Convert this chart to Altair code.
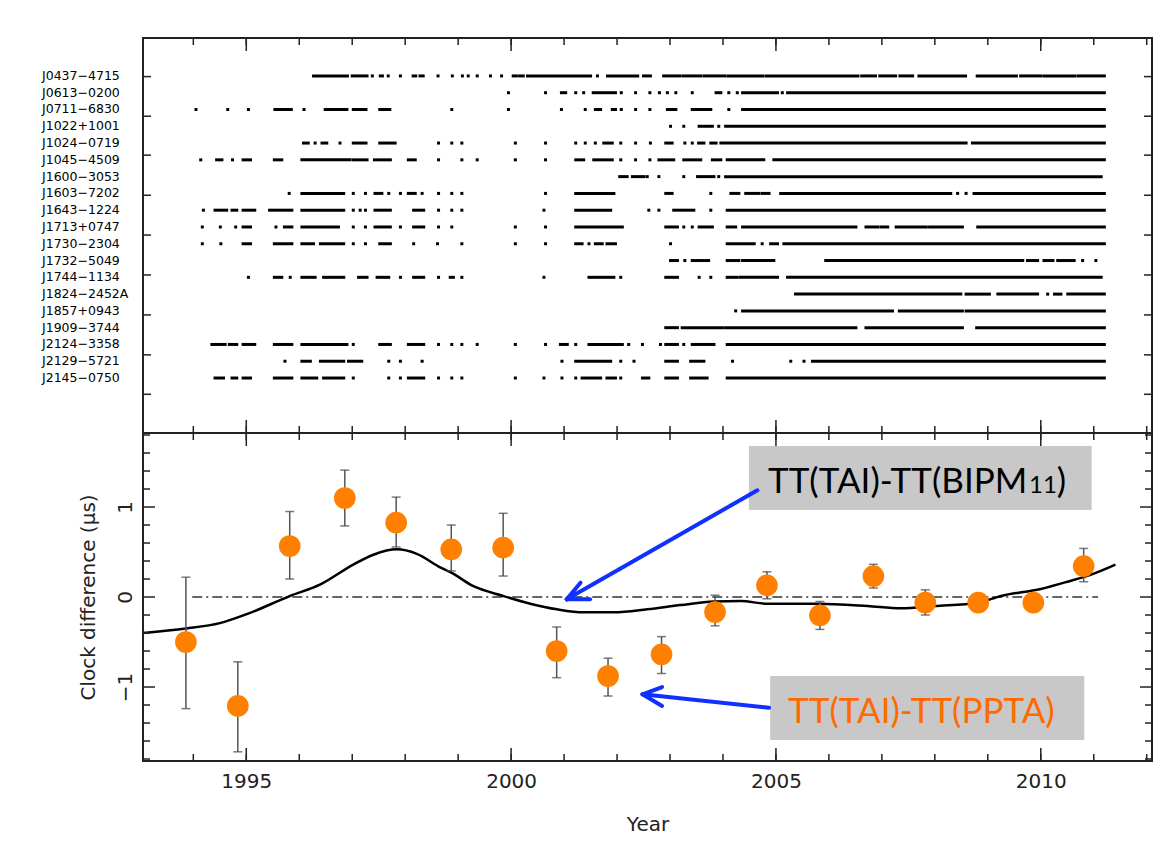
import altair as alt
import pandas as pd

# ---------------- top panel: pulsar observation epochs ----------------
pulsars = ["J0437−4715", "J0613−0200", "J0711−6830", "J1022+1001", "J1024−0719",
           "J1045−4509", "J1600−3053", "J1603−7202", "J1643−1224", "J1713+0747",
           "J1730−2304", "J1732−5049", "J1744−1134", "J1824−2452A", "J1857+0943",
           "J1909−3744", "J2124−3358", "J2129−5721", "J2145−0750"]

obs_J0437 = [[1996.27,1996.91],[1997.00,1997.28],[1997.38,1997.38],[1997.53,1997.57],[1997.68,1997.68],[1997.91,1997.91],[1998.15,1998.20],[1998.28,1998.34],[1998.62,1998.62],[1998.89,1998.89],[1999.08,1999.08],[1999.19,1999.19],[1999.36,1999.36],[1999.61,1999.61],[1999.82,1999.82],[2000.04,2000.10],[2000.16,2000.23],[2000.31,2001.50],[2001.63,2001.63],[2001.82,2002.39],[2002.50,2002.63],[2002.88,2003.18],[2003.24,2003.58],[2003.64,2004.03],[2004.09,2004.75],[2004.81,2006.55],[2006.62,2006.88],[2006.96,2007.26],[2007.34,2007.58],[2007.70,2008.58],[2008.80,2009.54],[2009.62,2010.01],[2010.07,2010.64],[2010.70,2011.20]]
obs_J0613 = [[1999.95,1999.95],[2000.65,2000.65],[2000.95,2001.03],[2001.22,2001.22],[2001.37,2001.37],[2001.55,2001.97],[2002.08,2002.08],[2002.35,2002.35],[2002.62,2002.62],[2002.80,2002.80],[2002.95,2002.95],[2003.11,2003.11],[2003.42,2003.42],[2003.87,2003.96],[2004.11,2004.11],[2004.27,2004.27],[2004.37,2005.03],[2005.12,2005.12],[2005.22,2011.20]]
obs_J0711 = [[1994.05,1994.05],[1994.65,1994.65],[1995.04,1995.04],[1995.54,1995.85],[1996.09,1996.09],[1996.49,1996.90],[1997.02,1997.26],[1997.52,1997.71],[1998.88,1998.88],[1999.95,1999.95],[2000.95,2000.95],[2001.40,2001.40],[2001.59,2001.69],[2001.91,2001.97],[2002.08,2002.08],[2002.35,2002.35],[2002.62,2002.62],[2002.95,2003.11],[2003.42,2003.77],[2004.11,2004.11],[2004.37,2011.20]]
obs_J1022 = [[2003.01,2003.01],[2003.26,2003.26],[2003.55,2003.80],[2003.92,2003.92],[2004.05,2011.20]]
obs_J1024 = [[1996.08,1996.17],[1996.30,1996.30],[1996.43,1996.52],[1996.77,1996.77],[1997.02,1997.26],[1997.52,1997.81],[1998.63,1998.63],[1998.88,1998.88],[1999.07,1999.07],[2000.08,2000.08],[2000.65,2000.65],[2001.22,2001.22],[2001.40,2001.40],[2001.59,2001.59],[2001.75,2001.91],[2002.07,2002.07],[2002.35,2002.35],[2002.63,2002.63],[2002.92,2003.04],[2003.28,2003.28],[2003.42,2003.42],[2003.54,2003.64],[2003.77,2003.87],[2003.96,2008.59],[2008.71,2011.20]]
obs_J1045 = [[1994.14,1994.14],[1994.44,1994.54],[1994.74,1994.74],[1994.94,1995.08],[1995.53,1995.67],[1996.05,1996.96],[1997.02,1997.28],[1997.42,1997.72],[1998.06,1998.19],[1998.63,1998.63],[1999.07,1999.07],[1999.36,1999.36],[2000.08,2000.08],[2000.65,2000.65],[2001.22,2001.37],[2001.56,2001.91],[2002.07,2002.07],[2002.35,2002.35],[2002.62,2002.62],[2002.79,2003.07],[2003.26,2003.58],[2003.80,2003.96],[2004.08,2004.77],[2004.96,2011.20]]
obs_J1600 = [[2002.05,2002.19],[2002.29,2002.51],[2002.57,2002.57],[2002.79,2002.79],[2003.26,2003.26],[2003.52,2003.83],[2003.92,2003.92],[2004.05,2011.14]]
obs_J1603 = [[1995.81,1995.81],[1996.05,1996.84],[1997.02,1997.02],[1997.25,1997.25],[1997.43,1997.56],[1997.69,1997.69],[1997.91,1997.91],[1998.06,1998.19],[1998.32,1998.32],[1998.63,1998.63],[1998.88,1998.88],[1999.07,1999.07],[2000.65,2000.65],[2001.22,2001.94],[2002.92,2003.04],[2003.77,2003.77],[2004.15,2004.30],[2004.43,2004.68],[2004.74,2004.87],[2005.09,2008.30],[2008.43,2008.43],[2008.59,2008.59],[2008.74,2011.20]]
obs_J1643 = [[1994.19,1994.19],[1994.41,1994.63],[1994.73,1994.82],[1994.94,1995.16],[1995.44,1995.86],[1996.05,1996.84],[1997.02,1997.02],[1997.15,1997.15],[1997.25,1997.25],[1997.43,1997.72],[1998.16,1998.35],[1998.63,1998.63],[1998.88,1998.88],[1999.07,1999.07],[2000.62,2000.62],[2001.22,2001.88],[2002.60,2002.60],[2002.79,2002.79],[2003.07,2003.45],[2003.77,2003.77],[2004.08,2011.20]]
obs_J1713 = [[1994.17,1994.17],[1994.51,1994.51],[1994.80,1994.80],[1994.94,1995.08],[1995.56,1995.56],[1995.72,1995.86],[1996.05,1996.74],[1997.02,1997.02],[1997.25,1997.25],[1997.43,1997.72],[1997.91,1997.91],[1998.16,1998.35],[1998.63,1998.63],[1998.88,1998.88],[2000.08,2000.08],[2000.65,2000.65],[2001.22,2002.10],[2002.92,2003.14],[2003.26,2003.26],[2003.42,2003.42],[2003.55,2003.80],[2004.08,2004.24],[2004.37,2006.51],[2006.70,2006.92],[2006.98,2007.11],[2007.27,2007.84],[2007.90,2008.52],[2008.81,2011.20]]
obs_J1730 = [[1994.17,1994.17],[1994.52,1994.52],[1994.94,1995.08],[1995.53,1995.86],[1996.05,1996.27],[1996.40,1996.84],[1997.02,1997.02],[1997.25,1997.25],[1997.52,1997.72],[1998.16,1998.16],[1998.61,1998.61],[1999.07,1999.07],[2000.08,2000.08],[2000.65,2000.65],[2001.22,2001.34],[2001.47,2001.47],[2001.59,2001.72],[2001.81,2001.97],[2003.01,2003.01],[2004.08,2004.59],[2004.74,2004.74],[2004.90,2005.03],[2005.15,2011.20]]
obs_J1732 = [[2003.01,2003.14],[2003.28,2003.28],[2003.42,2003.73],[2004.08,2004.30],[2004.37,2004.96],[2005.94,2009.66],[2009.75,2009.94],[2010.06,2010.23],[2010.32,2010.63],[2010.79,2010.79],[2011.04,2011.04]]
obs_J1744 = [[1995.04,1995.04],[1995.53,1995.67],[1995.83,1995.83],[1996.05,1996.30],[1996.46,1996.84],[1997.12,1997.28],[1997.47,1997.69],[1997.91,1997.91],[1998.16,1998.35],[1998.63,1998.63],[1998.85,1998.91],[1999.07,1999.07],[2000.62,2000.62],[2001.47,2001.94],[2002.07,2002.07],[2002.92,2003.14],[2003.55,2003.55],[2003.77,2003.77],[2004.08,2004.27],[2004.33,2005.03],[2005.22,2011.14]]
obs_J1824 = [[2005.37,2008.49],[2008.59,2009.03],[2009.19,2009.94],[2010.13,2010.13],[2010.26,2010.38],[2010.51,2011.20]]
obs_J1857 = [[2004.24,2004.24],[2004.37,2007.20],[2007.33,2008.52],[2008.59,2011.20]]
obs_J1909 = [[2002.92,2003.14],[2003.23,2003.99],[2004.05,2006.51],[2006.70,2008.52],[2008.79,2011.20]]
obs_J2124 = [[1994.35,1994.60],[1994.68,1994.82],[1994.94,1995.16],[1995.53,1995.86],[1996.05,1996.90],[1997.02,1997.02],[1997.52,1997.72],[1998.06,1998.35],[1998.63,1998.63],[1998.88,1998.88],[1999.07,1999.07],[1999.36,1999.36],[2000.08,2000.08],[2000.65,2000.65],[2000.93,2001.06],[2001.22,2001.22],[2001.47,2002.10],[2002.22,2002.22],[2002.48,2002.48],[2002.82,2002.82],[2002.92,2003.14],[2003.26,2003.26],[2003.42,2003.83],[2004.08,2011.20]]
obs_J2129 = [[1995.73,1995.73],[1996.05,1996.21],[1996.40,1996.84],[1996.93,1997.18],[1997.69,1997.69],[1997.91,1997.91],[1998.32,1998.32],[2000.96,2000.96],[2001.22,2001.88],[2002.07,2002.07],[2002.32,2002.32],[2002.92,2003.14],[2003.39,2003.64],[2004.18,2004.18],[2005.28,2005.28],[2005.53,2005.53],[2005.69,2011.20]]
obs_J2145 = [[1994.41,1994.57],[1994.73,1994.82],[1994.94,1995.08],[1995.53,1995.86],[1996.05,1996.33],[1996.46,1996.84],[1997.02,1997.02],[1997.69,1997.69],[1997.91,1997.91],[1998.06,1998.35],[1998.63,1998.63],[1998.88,1998.88],[1999.07,1999.07],[2000.08,2000.08],[2000.62,2000.62],[2000.96,2000.96],[2001.22,2001.22],[2001.34,2001.69],[2001.81,2001.97],[2002.07,2002.07],[2002.48,2002.60],[2002.92,2003.14],[2003.39,2003.70],[2004.08,2011.20]]

observations = [obs_J0437, obs_J0613, obs_J0711, obs_J1022, obs_J1024, obs_J1045,
                obs_J1600, obs_J1603, obs_J1643, obs_J1713, obs_J1730, obs_J1732,
                obs_J1744, obs_J1824, obs_J1857, obs_J1909, obs_J2124, obs_J2129,
                obs_J2145]

# ---------------- bottom panel: clock difference ----------------
pt_year = [1993.86, 1994.84, 1995.82, 1996.86, 1997.83, 1998.87, 1999.85, 2000.86, 2001.83,
           2002.84, 2003.85, 2004.83, 2005.83, 2006.84, 2007.82, 2008.82, 2009.86, 2010.81]
pt_val = [-0.50, -1.21, 0.567, 1.10, 0.826, 0.53, 0.548, -0.60, -0.878,
          -0.637, -0.167, 0.13, -0.204, 0.233, -0.063, -0.063, -0.063, 0.344]
pt_hi = [0.22, -0.72, 0.95, 1.41, 1.11, 0.80, 0.93, -0.333, -0.68,
         -0.44, 0.02, 0.28, -0.05, 0.363, 0.08, 0.03, 0.03, 0.54]
pt_lo = [-1.24, -1.72, 0.20, 0.79, 0.556, 0.29, 0.233, -0.896, -1.10,
         -0.85, -0.32, -0.02, -0.36, 0.10, -0.20, -0.15, -0.15, 0.17]

curve_year = [1993.05, 1993.86, 1994.50, 1995.01, 1995.82, 1996.40, 1997.02, 1997.40, 1997.84,
              1998.22, 1998.66, 1998.87, 1999.29, 1999.86, 2000.36, 2000.87, 2001.37, 2001.94,
              2002.57, 2003.20, 2003.83, 2004.33, 2004.84, 2005.78, 2006.73, 2007.36, 2007.99,
              2008.81, 2009.25, 2010.00, 2010.50, 2011.00, 2011.41]
curve_val = [-0.40, -0.35, -0.29, -0.19, 0.01, 0.14, 0.36, 0.47, 0.53,
             0.48, 0.33, 0.27, 0.12, 0.01, -0.074, -0.137, -0.17, -0.17,
             -0.137, -0.09, -0.05, -0.044, -0.075, -0.074, -0.10, -0.126, -0.10,
             -0.063, 0.011, 0.09, 0.17, 0.26, 0.36]

zero_x = [1993.98, 2011.08]

# annotations (data coordinates: year, microseconds)
box_x = [2004.49, 2004.89]
box_x2 = [2010.96, 2010.82]
box_y = [1.678, -0.878]
box_y2 = [0.967, -1.589]

arrow_x = [2004.65, 2001.05, 2001.05, 2004.87, 2002.48, 2002.48]
arrow_y = [1.186, -0.026, -0.026, -1.23, -1.081, -1.081]
arrow_x2 = [2001.05, 2001.31, 2001.49, 2002.48, 2002.85, 2002.85]
arrow_y2 = [-0.026, 0.159, -0.026, -1.081, -1.00, -1.211]

label_text = ["TT(TAI)-TT(BIPM", "11", ")", "TT(TAI)-TT(PPTA)"]
label_x = [2004.85, 2009.78, 2010.30, 2005.23]
label_y = [1.156, 1.156, 1.156, -1.403]
label_size = [35, 24, 35, 35]
label_color = ["black", "black", "black", "#ff6a00"]

# axis ticks
year_minor = list(range(1994, 2013))
year_major = [1995, 2000, 2005, 2010]
row_ticks = [0.04, 2.40, 4.72, 7.11, 9.48, 11.86, 14.24, 16.62, 18.97]
val_minor = [-1.8, -1.6, -1.4, -1.2, -0.8, -0.6, -0.4, -0.2, 0.2, 0.4, 0.6, 0.8, 1.2, 1.4, 1.6, 1.8]
val_major = [-1, 0, 1]

# ---------------- build ----------------
W = 1009
H = 723          # whole frame (both panels)
SEP = 395        # panel separator, pixels from the top of the frame
TICK_C = "#222"

xs = alt.Scale(domain=[1993.05, 2012.1], nice=False, zero=False)
# the two panels share one frame; each has its own vertical scale
ys_top = alt.Scale(domain=[-2.26, 40.82], reverse=True, nice=False, zero=False)
ys_bot = alt.Scale(domain=[-1.822, 6.211], nice=False, zero=False)

AX_X = alt.Axis(
    values=year_major, format="d", ticks=False, domain=False, grid=False,
    labelFont="DejaVu Sans", labelFontSize=20, labelColor="#222", labelPadding=10,
    labelFlush=False, title="Year", titleFont="DejaVu Sans", titleFontSize=20,
    titleFontWeight="normal", titleColor="#222", titlePadding=23)
AX_BOT_Y = alt.Axis(
    orient="left", values=val_major, ticks=False, domain=False, grid=False, labelAngle=270,
    labelAlign="center", labelBaseline="alphabetic", labelPadding=12,
    labelFont="DejaVu Sans", labelFontSize=20, labelColor="#222",
    title="Clock difference (μs)", titleFont="DejaVu Sans", titleFontSize=20,
    titleFontWeight="normal", titleColor="#222", titleAngle=270, titleAlign="center",
    titleBaseline="middle", titleX=-55, titleY=559)


def X(field):
    return alt.X(field, scale=xs, axis=AX_X)


def YT(field):
    return alt.Y(field, scale=ys_top, axis=None)


def YB(field):
    return alt.Y(field, scale=ys_bot, axis=AX_BOT_Y)


def rule(d):
    return alt.Chart(d).mark_rule(color=TICK_C, strokeWidth=1.5)


# ---- top panel layers
obs_rows = []
for i, segs in enumerate(observations):
    for s, e in segs:
        obs_rows.append({"row": i, "start": s, "end": e})
obs_df = pd.DataFrame(obs_rows)
name_df = pd.DataFrame({"row": list(range(len(pulsars))), "name": pulsars})
rt_df = pd.DataFrame({"v": row_ticks})
ymin_df = pd.DataFrame({"yr": year_minor})
ymaj_df = pd.DataFrame({"yr": year_major})

top_layers = [
    alt.Chart(obs_df).mark_rule(color="black", strokeWidth=3, strokeCap="square").encode(
        x=X("start:Q"), x2="end:Q", y=YT("row:Q")),
    alt.Chart(name_df).mark_text(align="left", baseline="middle", font="DejaVu Sans",
                                 fontSize=12.5, color="black").encode(
        x=alt.value(-101), y=YT("row:Q"), text="name:N"),
    rule(rt_df).encode(y=YT("v:Q"), x=alt.value(0), x2=alt.value(8)),
    rule(rt_df).encode(y=YT("v:Q"), x=alt.value(W), x2=alt.value(W - 8)),
    rule(ymin_df).encode(x=X("yr:Q"), y=alt.value(0), y2=alt.value(7)),
    rule(ymaj_df).encode(x=X("yr:Q"), y=alt.value(0), y2=alt.value(13)),
    rule(ymin_df).encode(x=X("yr:Q"), y=alt.value(SEP), y2=alt.value(SEP - 7)),
    rule(ymaj_df).encode(x=X("yr:Q"), y=alt.value(SEP), y2=alt.value(SEP - 13)),
    alt.Chart(ymaj_df).mark_rule(color=TICK_C, strokeWidth=2).encode(
        x=alt.value(0), x2=alt.value(W), y=alt.value(SEP)),
]
top = alt.layer(*top_layers)

# ---- bottom panel layers
zero_df = pd.DataFrame({"x0": [zero_x[0]], "x1": [zero_x[1]], "y0": [0.0]})
curve_df = pd.DataFrame({"yr": curve_year, "v": curve_val})
pts_df = pd.DataFrame({"yr": pt_year, "v": pt_val, "hi": pt_hi, "lo": pt_lo})
box_df = pd.DataFrame({"x": box_x, "x2": box_x2, "y": box_y, "y2": box_y2})
arrow_df = pd.DataFrame({"x": arrow_x, "y": arrow_y, "x2": arrow_x2, "y2": arrow_y2})
label_df = pd.DataFrame({"t": label_text, "x": label_x, "y": label_y,
                         "s": label_size, "c": label_color})
vmin_df = pd.DataFrame({"v": val_minor})
vmaj_df = pd.DataFrame({"v": val_major})

bottom_layers = [
    alt.Chart(zero_df).mark_rule(color="#333", strokeWidth=1.5, strokeDash=[10, 4, 2, 4]).encode(
        x=X("x0:Q"), x2="x1:Q", y=YB("y0:Q")),
    alt.Chart(curve_df).mark_line(color="black", strokeWidth=2.5, interpolate="monotone").encode(
        x=X("yr:Q"), y=YB("v:Q")),
    alt.Chart(pts_df).mark_rule(color="#555", strokeWidth=1.5).encode(
        x=X("yr:Q"), y=YB("lo:Q"), y2="hi:Q"),
    alt.Chart(pts_df).mark_tick(color="#444", orient="horizontal", size=9, thickness=1.5).encode(
        x=X("yr:Q"), y=YB("hi:Q")),
    alt.Chart(pts_df).mark_tick(color="#444", orient="horizontal", size=9, thickness=1.5).encode(
        x=X("yr:Q"), y=YB("lo:Q")),
    alt.Chart(pts_df).mark_circle(color="#ff8000", opacity=1, size=470).encode(
        x=X("yr:Q"), y=YB("v:Q")),
    alt.Chart(box_df).mark_rect(color="#c8c8c8").encode(
        x=X("x:Q"), x2="x2:Q", y=YB("y:Q"), y2="y2:Q"),
    alt.Chart(arrow_df).mark_rule(color="#1030ff", strokeWidth=4, strokeCap="round").encode(
        x=X("x:Q"), x2="x2:Q", y=YB("y:Q"), y2="y2:Q"),
    alt.Chart(label_df).mark_text(align="left", baseline="alphabetic", font="Lato").encode(
        x=X("x:Q"), y=YB("y:Q"), text="t:N",
        size=alt.Size("s:Q", scale=None, legend=None),
        color=alt.Color("c:N", scale=None, legend=None)),
    rule(vmin_df).encode(y=YB("v:Q"), x=alt.value(0), x2=alt.value(7)),
    rule(vmin_df).encode(y=YB("v:Q"), x=alt.value(W), x2=alt.value(W - 7)),
    rule(vmaj_df).encode(y=YB("v:Q"), x=alt.value(0), x2=alt.value(12)),
    rule(vmaj_df).encode(y=YB("v:Q"), x=alt.value(W), x2=alt.value(W - 12)),
    rule(ymin_df).encode(x=X("yr:Q"), y=alt.value(SEP), y2=alt.value(SEP + 7)),
    rule(ymaj_df).encode(x=X("yr:Q"), y=alt.value(SEP), y2=alt.value(SEP + 13)),
    rule(ymin_df).encode(x=X("yr:Q"), y=alt.value(H), y2=alt.value(H - 7)),
    rule(ymaj_df).encode(x=X("yr:Q"), y=alt.value(H), y2=alt.value(H - 13)),
]
bottom = alt.layer(*bottom_layers)

chart = alt.layer(top, bottom).resolve_scale(y="independent").properties(
    width=W, height=H,
    padding={"left": 34, "top": 29, "right": 10, "bottom": 0},
    background="white",
).configure_view(stroke="#222", strokeWidth=2).configure_axis(grid=False)

chart.save("out.html", embed_options={"renderer": "svg", "actions": False})
